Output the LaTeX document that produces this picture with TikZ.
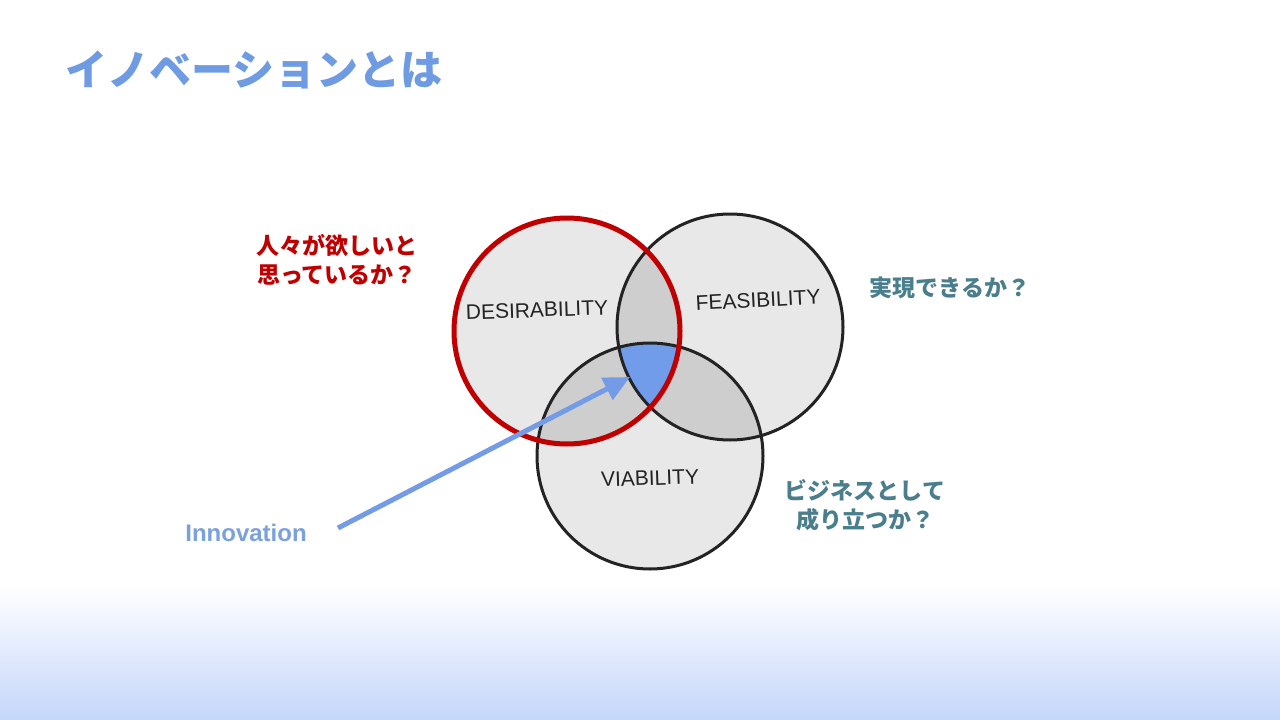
\documentclass[tikz,border=0pt]{standalone}
\usepackage{fontspec}
\setmainfont{Liberation Sans}
\newfontfamily\jp{Noto Sans CJK JP}
\usetikzlibrary{arrows.meta}
\definecolor{titleblue}{RGB}{111,155,227}
\definecolor{dred}{RGB}{192,0,0}
\definecolor{teal}{RGB}{74,126,140}
\definecolor{innoblue}{RGB}{122,160,222}
\definecolor{arrowblue}{RGB}{116,156,230}
\definecolor{lightfill}{RGB}{232,232,232}
\definecolor{midfill}{RGB}{206,206,206}
\definecolor{coreblue}{RGB}{112,156,234}
\definecolor{gradblue}{RGB}{197,214,250}
\definecolor{ink}{RGB}{35,35,35}
\tikzset{
  venn/.style={circle, inner sep=0pt, minimum size=226pt},
  hand/.style={font=\fontsize{21}{21}\selectfont, text=ink},
  jplabel/.style={font=\jp\bfseries\fontsize{23}{29}\selectfont, align=center},
  arr/.style={draw=arrowblue, line width=5pt, -{Triangle[length=26pt,width=24pt]}},
}
\begin{document}
\begin{tikzpicture}[x=1pt,y=-1pt]
\useasboundingbox (0,0) rectangle (1280,720);
\fill[white] (0,0) rectangle (1280,720);
\shade[top color=white, bottom color=gradblue] (0,585) rectangle (1280,720);

% circles
\node[venn, fill=lightfill] (V) at (650,456) {};
\node[venn, fill=lightfill] (F) at (730,327) {};
\node[venn, fill=lightfill] (D) at (567,331) {};
% pairwise overlaps
\begin{scope}
  \clip (D.center) circle[radius=113pt];
  \fill[midfill] (F.center) circle[radius=113pt];
  \fill[midfill] (V.center) circle[radius=113pt];
\end{scope}
\begin{scope}
  \clip (F.center) circle[radius=113pt];
  \fill[midfill] (V.center) circle[radius=113pt];
\end{scope}
\begin{scope}
  \clip (D.center) circle[radius=113pt];
  \clip (F.center) circle[radius=113pt];
  \fill[coreblue] (V.center) circle[radius=113pt];
\end{scope}
\draw[ink, line width=3pt] (V.center) circle[radius=113pt];
\draw[ink, line width=3pt] (F.center) circle[radius=113pt];
\draw[dred, line width=5pt] (D.center) circle[radius=113pt];

% handwritten labels
\node[hand, rotate=2] (dl) at (537,310) {DESIRABILITY};
\node[hand, rotate=3] (fl) at (758,300) {FEASIBILITY};
\node[hand, rotate=2] (vl) at (650,478) {VIABILITY};

% title
\node[anchor=west, font=\jp\bfseries\fontsize{42}{42}\selectfont, text=titleblue] (title) at (62,70) {イノベーションとは};

% side labels
\node[jplabel, text=dred] (q1) at (337,260) {人々が欲しいと\\思っているか？};
\node[jplabel, text=teal] (q2) at (950,288) {実現できるか？};
\node[jplabel, text=teal] (q3) at (865,505) {ビジネスとして\\成り立つか？};

% innovation
\node[font=\bfseries\fontsize{24}{24}\selectfont, text=innoblue] (inno) at (246,533) {Innovation};
\coordinate (start) at (338,528);
\coordinate (tip) at (630,377);
\draw[arr] (start) -- (tip);
\end{tikzpicture}
\end{document}
